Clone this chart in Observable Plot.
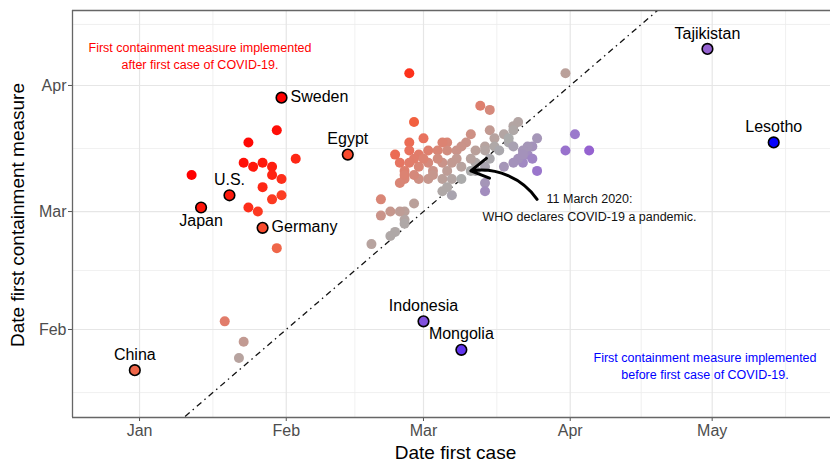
<!DOCTYPE html>
<html>
<head>
<meta charset="utf-8">
<script src="https://cdn.jsdelivr.net/npm/d3@7"></script>
<script src="https://cdn.jsdelivr.net/npm/@observablehq/plot@0.6"></script>
<style>
  html, body { margin: 0; padding: 0; background: #fff; }
  #chart svg { display: block; }
</style>
</head>
<body>
<div id="chart"></div>
<script>
// ---------- data ----------
const labeledCountries = ["China", "Japan", "U.S.", "Germany", "Sweden", "Egypt", "Indonesia", "Mongolia", "Tajikistan", "Lesotho"];
const labeledFirstCase = ["2019-12-31", "2020-01-14", "2020-01-20", "2020-01-27", "2020-01-31", "2020-02-14", "2020-03-01", "2020-03-09", "2020-04-30", "2020-05-14"];
const labeledFirstMeasure = ["2020-01-22", "2020-03-02", "2020-03-05", "2020-02-26", "2020-03-29", "2020-03-15", "2020-02-03", "2020-01-27", "2020-04-10", "2020-03-18"];

const otherFirstCase = [
  "2020-01-30","2020-01-24","2020-02-03","2020-01-23","2020-01-25","2020-01-27","2020-01-29","2020-01-29","2020-01-31","2020-01-12",
  "2020-01-27","2020-01-31","2020-01-29","2020-01-24","2020-01-26","2020-01-30","2020-01-19","2020-01-23","2020-01-22","2020-02-19",
  "2020-02-27","2020-03-31","2020-03-13","2020-03-15","2020-02-28","2020-03-15","2020-03-21","2020-03-20","2020-03-20","2020-03-18",
  "2020-03-16","2020-03-14","2020-03-11","2020-03-10","2020-03-06","2020-03-01","2020-02-27","2020-03-25","2020-04-02","2020-03-31",
  "2020-04-05","2020-03-25","2020-03-23","2020-03-22","2020-03-21","2020-03-20","2020-03-18","2020-03-24","2020-03-24","2020-03-23",
  "2020-03-22","2020-03-14","2020-03-14","2020-03-22","2020-03-19","2020-03-19","2020-03-16","2020-03-14","2020-03-12","2020-03-08",
  "2020-03-06","2020-03-04","2020-03-02","2020-02-29","2020-02-27","2020-02-24","2020-03-05","2020-03-09","2020-03-17","2020-03-20",
  "2020-02-25","2020-02-26","2020-02-29","2020-03-02","2020-03-03","2020-03-05","2020-03-06","2020-03-07","2020-03-09","2020-03-12",
  "2020-03-12","2020-03-14","2020-02-28","2020-03-01","2020-03-04","2020-03-08","2020-03-11","2020-03-15","2020-02-27","2020-02-26",
  "2020-02-29","2020-03-02","2020-03-05","2020-03-07","2020-03-09","2020-03-11","2020-02-25","2020-02-26","2020-02-28","2020-03-03",
  "2020-03-05","2020-03-07","2020-02-28","2020-02-21","2020-02-21","2020-02-23","2020-02-26","2020-02-26","2020-02-26","2020-02-24",
  "2020-02-23","2020-03-06","2020-02-25"
];
const otherFirstMeasure = [
  "2020-03-21","2020-03-18","2020-03-14","2020-03-13","2020-03-12","2020-03-13","2020-03-12","2020-03-10","2020-03-09","2020-03-10",
  "2020-03-07","2020-03-05","2020-03-04","2020-03-02","2020-03-01","2020-02-21","2020-02-03","2020-01-29","2020-01-25","2020-02-22",
  "2020-04-04","2020-04-04","2020-03-27","2020-03-26","2020-03-23","2020-03-21","2020-03-23","2020-03-22","2020-03-21","2020-03-20",
  "2020-03-19","2020-03-17","2020-03-20","2020-03-18","2020-03-18","2020-03-19","2020-03-18","2020-03-19","2020-03-20","2020-03-16",
  "2020-03-16","2020-03-11","2020-03-15","2020-03-13","2020-03-14","2020-03-13","2020-03-12","2020-03-14","2020-03-17","2020-03-17",
  "2020-03-16","2020-03-08","2020-03-06","2020-03-15","2020-03-18","2020-03-19","2020-03-17","2020-03-16","2020-03-16","2020-03-16",
  "2020-03-16","2020-03-16","2020-03-16","2020-03-15","2020-03-16","2020-03-15","2020-03-18","2020-03-17","2020-03-16","2020-03-17",
  "2020-03-13","2020-03-11","2020-03-12","2020-03-13","2020-03-11","2020-03-13","2020-03-11","2020-03-13","2020-03-12","2020-03-13",
  "2020-03-11","2020-03-12","2020-03-14","2020-03-14","2020-03-14","2020-03-14","2020-03-14","2020-03-14","2020-03-13","2020-03-09",
  "2020-03-09","2020-03-09","2020-03-09","2020-03-09","2020-03-09","2020-03-11","2020-03-08","2020-03-10","2020-03-10","2020-03-10",
  "2020-03-06","2020-03-05","2020-03-03","2020-03-04","2020-02-29","2020-03-01","2020-03-01","2020-02-28","2020-02-27","2020-02-25",
  "2020-02-24","2020-03-07","2020-03-01"
];

const xTickDates = ["2020-01-01", "2020-02-01", "2020-03-01", "2020-04-01", "2020-05-01"];
const xTickLabels = ["Jan", "Feb", "Mar", "Apr", "May"];
const yTickDates = ["2020-02-01", "2020-03-01", "2020-04-01"];
const yTickLabels = ["Feb", "Mar", "Apr"];

const whoDate = "2020-03-11";
const arrowTail = {x: "2020-03-25", y: "2020-03-04"};

const afterText = "First containment measure implemented\nafter first case of COVID-19.";
const beforeText = "First containment measure implemented\nbefore first case of COVID-19.";
const whoText = "11 March 2020:\nWHO declares COVID-19 a pandemic.";
const xTitle = "Date first case";
const yTitle = "Date first containment measure";

// ---------- build ----------
const parse = s => new Date(s);
const DAY = 864e5;

const labeled = labeledCountries.map((name, i) => ({
  name, x: parse(labeledFirstCase[i]), y: parse(labeledFirstMeasure[i])
}));
const others = otherFirstCase.map((c, i) => ({x: parse(c), y: parse(otherFirstMeasure[i])}));

const diffColor = d3.scaleLinear()
  .domain([-58, -42, -27, -20, -12, -6, 0, 6, 12, 18, 24, 32, 42, 58])
  .range(["#0000ff", "#6236ee", "#8050dc", "#9562d0", "#9c7ccb", "#a596b8", "#ababab",
          "#c29a92", "#d98676", "#e8725e", "#f2603f", "#fb4428", "#ff2010", "#ff0000"])
  .interpolate(d3.interpolateRgb)
  .clamp(true);
const fillOf = d => diffColor((d.y - d.x) / DAY);

const xDomain = [new Date(Date.UTC(2019, 11, 17, 20)), new Date(Date.UTC(2020, 4, 26))];
const yDomain = [new Date(Date.UTC(2020, 0, 10, 8, 40)), new Date(Date.UTC(2020, 3, 19, 10, 30))];

const xTicks = xTickDates.map(parse);
const yTicks = yTickDates.map(parse);
const months = d3.utcMonth.range(new Date(Date.UTC(2019, 10, 1)), new Date(Date.UTC(2020, 6, 1)));
const mids = d3.pairs(months).map(([a, b]) => new Date((+a + +b) / 2));
const xMinor = mids.filter(d => d > xDomain[0] && d < xDomain[1]);
const yMinor = mids.filter(d => d > yDomain[0] && d < yDomain[1]);

const above = labeled.filter(d => !["Sweden", "Germany", "Japan"].includes(d.name));
const right = labeled.filter(d => ["Sweden", "Germany"].includes(d.name));
const below = labeled.filter(d => d.name === "Japan");

const FONT = "'Liberation Sans', Arial, Helvetica, sans-serif";

const chart = Plot.plot({
  width: 830,
  height: 467,
  marginLeft: 72,
  marginRight: 0,
  marginTop: 10,
  marginBottom: 50,
  style: {fontFamily: FONT, fontSize: "16px", background: "#fff", overflow: "visible"},
  x: {type: "utc", domain: xDomain},
  y: {type: "utc", domain: yDomain},
  marks: [
    Plot.gridX({ticks: xMinor, stroke: "#ececec", strokeOpacity: 1, strokeWidth: 0.8}),
    Plot.gridY({ticks: yMinor, stroke: "#ececec", strokeOpacity: 1, strokeWidth: 0.8}),
    Plot.gridX({ticks: xTicks, stroke: "#e6e6e6", strokeOpacity: 1, strokeWidth: 1.2}),
    Plot.gridY({ticks: yTicks, stroke: "#e6e6e6", strokeOpacity: 1, strokeWidth: 1.2}),
    Plot.link([{a: new Date(Date.UTC(2019, 11, 1)), b: new Date(Date.UTC(2020, 5, 1))}], {
      x1: "a", y1: "a", x2: "b", y2: "b", clip: true,
      stroke: "#111", strokeWidth: 1.3, strokeDasharray: "1.5,4,6,4"
    }),
    Plot.dot(others, {x: "x", y: "y", r: 5, fill: fillOf, stroke: "none"}),
    Plot.dot(labeled, {x: "x", y: "y", r: 5.3, fill: fillOf, stroke: "#000", strokeWidth: 1.6}),
    Plot.text(above, {x: "x", y: "y", text: "name", dy: -15.5, fontSize: 16, fill: "#000"}),
    Plot.text(right, {x: "x", y: "y", text: "name", dx: 9, dy: -1, textAnchor: "start", fontSize: 16, fill: "#000"}),
    Plot.text(below, {x: "x", y: "y", text: "name", dy: 13.5, fontSize: 16, fill: "#000"}),
    Plot.arrow([{x1: parse(arrowTail.x), y1: parse(arrowTail.y), x2: parse(whoDate), y2: parse(whoDate)}], {
      x1: "x1", y1: "y1", x2: "x2", y2: "y2", bend: -32, stroke: "#000", strokeWidth: 3, headLength: 10
    }),
    Plot.text([whoText], {text: d => d, frameAnchor: "top-left", dx: 517, dy: 180, lineAnchor: "top",
      textAnchor: "middle", fontSize: 12.5, lineHeight: 1.45, fill: "#111"}),
    Plot.text([afterText], {text: d => d, frameAnchor: "top-left", dx: 127.5, dy: 29, lineAnchor: "top",
      textAnchor: "middle", fontSize: 12.5, lineHeight: 1.4, fill: "#ff0000"}),
    Plot.text([beforeText], {text: d => d, frameAnchor: "top-left", dx: 632.5, dy: 339, lineAnchor: "top",
      textAnchor: "middle", fontSize: 12.5, lineHeight: 1.4, fill: "#0000ff"}),
    Plot.axisX({ticks: xTicks, tickFormat: d => xTickLabels[xTicks.findIndex(t => +t === +d)],
      label: null, tickSize: 4, tickPadding: 3, fontSize: 16, fill: "#4d4d4d", stroke: "#555"}),
    Plot.axisY({ticks: yTicks, tickFormat: d => yTickLabels[yTicks.findIndex(t => +t === +d)],
      label: null, tickSize: 4, tickPadding: 2, fontSize: 16, fill: "#4d4d4d", stroke: "#555"}),
    Plot.ruleX([xDomain[0]], {stroke: "#666", strokeWidth: 1.3}),
    Plot.ruleY([yDomain[0], yDomain[1]], {stroke: "#666", strokeWidth: 1.3}),
    Plot.text([xTitle], {text: d => d, frameAnchor: "bottom", dx: 4, dy: 41, fontSize: 19, fill: "#000"}),
    Plot.text([yTitle], {text: d => d, frameAnchor: "left", dx: -55, dy: 1, rotate: -90,
      textAnchor: "middle", fontSize: 19, fill: "#000"})
  ]
});

document.getElementById("chart").appendChild(chart);
</script>
</body>
</html>
